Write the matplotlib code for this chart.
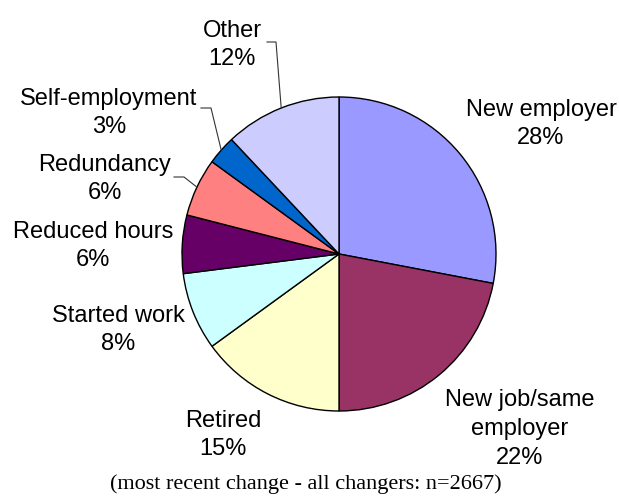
import numpy as np
import matplotlib
matplotlib.use("Agg")
from matplotlib import pyplot as plt

labels = ["New employer", "New job/same\nemployer", "Retired", "Started work",
          "Reduced hours", "Redundancy", "Self-employment", "Other"]
values = [28, 22, 15, 8, 6, 6, 3, 12]
colors = ["#9999FF", "#993366", "#FFFFCC", "#CCFFFF",
          "#660066", "#FF8080", "#0066CC", "#CCCCFF"]
footnote = "(most recent change - all changers: n=2667)"

W, H = 619, 496
cx, cy, r = 339, H - 254, 157

# label centres in pixel coords (top origin)
label_pos = [(541, 124), (520, 429), (223, 435), (118, 330),
             (93, 246), (105, 179), (109, 113), (232, 45)]
# leader elbows (start, corner) for the small slices near the label
leaders = {7: [(267, 42), (276, 42)],
           6: [(201, 108), (211, 108)],
           5: [(174, 177), (184, 177)]}

fig = plt.figure(figsize=(W / 100, H / 100), dpi=100)
ax = fig.add_axes([0, 0, 1, 1])

ax.pie(values, colors=colors, startangle=90, counterclock=False,
       center=(cx, cy), radius=r,
       wedgeprops=dict(edgecolor="black", linewidth=1.0))

# pie() resets the limits, so set them afterwards
ax.set_xlim(0, W)
ax.set_ylim(0, H)
ax.set_aspect("equal")
ax.axis("off")

total = float(sum(values))
cum = np.cumsum([0] + values[:-1]) / total
for i, (lab, v) in enumerate(zip(labels, values)):
    x, y = label_pos[i]
    ax.text(x, H - y, "%s\n%d%%" % (lab, v), ha="center", va="center",
            fontsize=17, family="Liberation Sans", linespacing=1.4)
    if i in leaders:
        mid = cum[i] + v / total / 2
        ang = np.deg2rad(90 - 360 * mid)
        ex, ey = cx + r * np.cos(ang), cy + r * np.sin(ang)
        pts = leaders[i]
        xs = [p[0] for p in pts] + [ex]
        ys = [H - p[1] for p in pts] + [ey]
        ax.plot(xs, ys, color="#333333", linewidth=0.8)

ax.text(306, H - 484, footnote, ha="center", va="center",
        fontsize=16, family="Liberation Serif")

fig.savefig("out.png", dpi=100)
